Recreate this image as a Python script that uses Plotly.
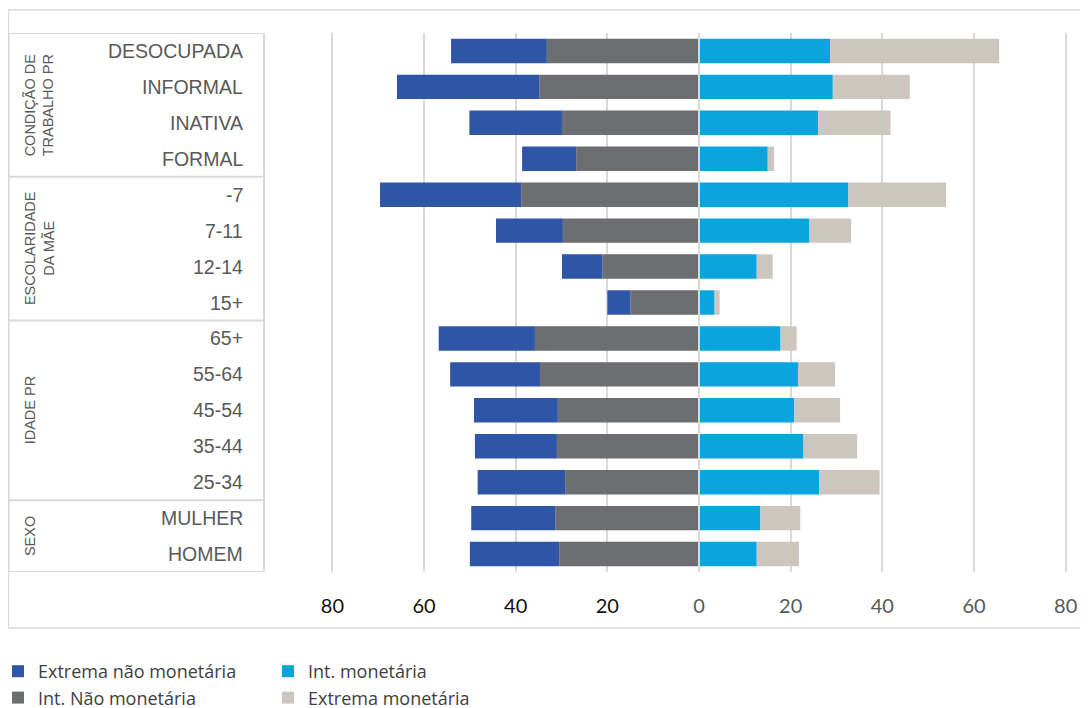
import plotly.graph_objects as go

# rows top to bottom
categories = ["DESOCUPADA", "INFORMAL", "INATIVA", "FORMAL",
              "-7", "7-11", "12-14", "15+",
              "65+", "55-64", "45-54", "35-44", "25-34",
              "MULHER", "HOMEM"]

# stacked segments (percent); left side drawn as negative
int_nao_monetaria = [33.2, 34.8, 29.9, 26.8, 38.8, 29.7, 21.1, 15.0, 35.8, 34.7, 30.8, 31.0, 29.2, 31.3, 30.5]
extrema_nao_monetaria = [20.9, 31.1, 20.2, 11.8, 30.8, 14.6, 8.8, 5.0, 21.0, 19.6, 18.3, 17.9, 19.1, 18.4, 19.5]
int_monetaria = [28.6, 29.2, 26.0, 15.0, 32.6, 24.1, 12.6, 3.4, 17.8, 21.6, 20.8, 22.8, 26.2, 13.4, 12.6]
extrema_monetaria = [36.9, 16.8, 15.8, 1.4, 21.3, 9.1, 3.5, 1.1, 3.5, 8.1, 10.0, 11.7, 13.2, 8.7, 9.2]

groups = [("CONDIÇÃO DE<br>TRABALHO PR", 0, 3),
          ("ESCOLARIDADE<br>DA MÃE", 4, 7),
          ("IDADE PR", 8, 12),
          ("SEXO", 13, 14)]

tick_vals = [-80, -60, -40, -20, 0, 20, 40, 60, 80]

# figure sits 8px inside the page (body margin)
OFF = 8
W, H = 1080, 708
L, R, T, B = 323, 21, 25, 144
pw, ph = W - L - R, H - T - B


def px(x):
    # page x -> paper x
    return (x - OFF - L) / pw


def py(y):
    # page y -> paper y
    return (H - B - (y - OFF)) / ph


grid = "#d9d9d9"
label_col = "#595959"

fig = go.Figure()
fig.add_trace(go.Bar(y=categories, x=[-v for v in int_nao_monetaria], orientation="h",
                     name="Int. Não monetária", marker_color="#6d6e71", legend="legend", legendgroup="a"))
fig.add_trace(go.Bar(y=categories, x=[-v for v in extrema_nao_monetaria], orientation="h",
                     name="Extrema não monetária", marker_color="#2f56a6", legend="legend", legendgroup="b"))
fig.add_trace(go.Bar(y=categories, x=int_monetaria, orientation="h",
                     name="Int. monetária", marker_color="#0ba5dd", legend="legend2", legendgroup="c"))
fig.add_trace(go.Bar(y=categories, x=extrema_monetaria, orientation="h",
                     name="Extrema monetária", marker_color="#cdc6bf", legend="legend2", legendgroup="d"))
fig.update_traces(marker_line_width=0)

tick_text = []
for v in tick_vals:
    c = "#111111" if v < 0 else "#595959"
    tick_text.append(f'<span style="color:{c}">{abs(v)}</span>')

n = len(categories)
shapes = [
    dict(type="rect", xref="paper", yref="paper", x0=px(8.5), x1=px(1095), y0=py(628), y1=py(10),
         line=dict(color=grid, width=1.5), layer="below"),
    dict(type="rect", xref="paper", yref="y", x0=px(8.5), x1=px(264), y0=-0.5, y1=n - 0.5,
         line=dict(color=grid, width=2)),
    dict(type="line", xref="x", yref="paper", x0=0, x1=0, y0=0, y1=1,
         line=dict(color=grid, width=2), layer="above"),
]
for _, a, b in groups[:-1]:
    shapes.append(dict(type="line", xref="paper", yref="y", x0=px(8.5), x1=px(264),
                       y0=b + 0.5, y1=b + 0.5, line=dict(color=grid, width=2)))

annotations = []
for i, c in enumerate(categories):
    annotations.append(dict(text=c, xref="paper", yref="y", x=px(245), y=i, xanchor="right",
                            showarrow=False,
                            font=dict(family="Liberation Sans, Arial", size=19.5, color=label_col)))
for name, a, b in groups:
    annotations.append(dict(text=name, xref="paper", yref="y", x=px(20), y=(a + b) / 2, xanchor="left",
                            textangle=-90, showarrow=False,
                            font=dict(family="Liberation Sans, Arial", size=14.5, color=label_col)))

legend_font = dict(family="Open Sans", size=18, color="#404040")

fig.update_layout(
    width=W, height=H,
    barmode="relative",
    bargap=0.32,
    paper_bgcolor="white",
    plot_bgcolor="white",
    margin=dict(l=L, r=R, t=T, b=B, autoexpand=False),
    xaxis=dict(range=[-80.3, 80.3], tickvals=tick_vals, ticktext=tick_text,
               showgrid=True, gridcolor=grid, gridwidth=2, zeroline=False,
               ticks="outside", ticklen=16, tickcolor="rgba(0,0,0,0)",
               tickfont=dict(family="Lato", size=20), fixedrange=True),
    yaxis=dict(categoryorder="array", categoryarray=categories, range=[n - 0.5, -0.5],
               showticklabels=False, showgrid=False, zeroline=False),
    legend=dict(x=px(-2), y=py(653), xanchor="left", yanchor="top", traceorder="reversed",
                tracegroupgap=2, font=legend_font, bgcolor="rgba(0,0,0,0)", itemclick=False),
    legend2=dict(x=px(268), y=py(653), xanchor="left", yanchor="top", traceorder="normal",
                 tracegroupgap=2, font=legend_font, bgcolor="rgba(0,0,0,0)", itemclick=False),
    shapes=shapes,
    annotations=annotations,
    showlegend=True,
)

fig.write_html("out.html")
